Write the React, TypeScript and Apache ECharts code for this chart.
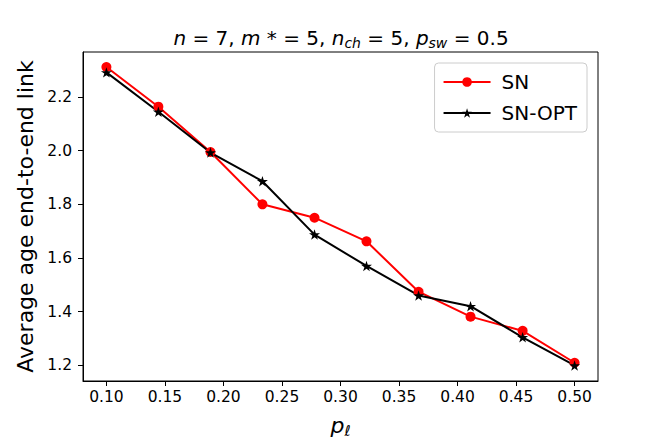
import React, { useEffect, useRef } from "react";
import * as echarts from "echarts";

const xValues = [0.1, 0.1444, 0.1889, 0.2333, 0.2778, 0.3222, 0.3667, 0.4111, 0.4556, 0.5];
const snValues = [2.312, 2.164, 1.995, 1.8, 1.75, 1.662, 1.474, 1.381, 1.328, 1.209];
const snOptValues = [2.292, 2.145, 1.993, 1.886, 1.687, 1.57, 1.46, 1.42, 1.304, 1.199];
const xTicks = [0.1, 0.15, 0.2, 0.25, 0.3, 0.35, 0.4, 0.45, 0.5];
const yTicks = [1.2, 1.4, 1.6, 1.8, 2.0, 2.2];
const seriesNames = ["SN", "SN-OPT"];

const STAR =
  "path://M100,0 L122.45,69.1 L195.1,69.1 L136.3,111.8 L158.8,180.9 L100,138.2 L41.2,180.9 L63.7,111.8 L4.9,69.1 L77.55,69.1 Z";

const FONT = "DejaVu Sans";

export default function App() {
  const ref = useRef<HTMLDivElement>(null);
  useEffect(() => {
    if (!ref.current) return;
    const chart = echarts.init(ref.current, undefined, { renderer: "svg" });
    const it = { fontFamily: FONT, fontStyle: "italic", fontSize: 20, color: "#000" };
    const nm = { fontFamily: FONT, fontSize: 20, color: "#000" };
    const sub = { fontFamily: FONT, fontStyle: "italic", fontSize: 14, color: "#000", padding: [10, 0, 0, 0] };
    chart.setOption({
      animation: false,
      backgroundColor: "#fff",
      grid: {
        left: 83,
        right: 66,
        top: 52,
        bottom: 55,
        show: true,
        borderColor: "#000",
        borderWidth: 1,
        backgroundColor: "transparent",
      },
      graphic: [
        {
          type: "text",
          x: 341,
          y: 38,
          style: {
            text: "{i|n}{r| = 7, }{i|m}{r| * = 5, }{i|n}{s|ch}{r| = 5, }{i|p}{s|sw}{r| = 0.5}",
            rich: { i: it, r: nm, s: sub },
            align: "center",
            verticalAlign: "middle",
          },
        },
      ],
      legend: {
        data: seriesNames,
        orient: "vertical",
        right: 77,
        top: 63,
        itemWidth: 47,
        itemHeight: 12,
        itemGap: 11,
        padding: [9, 10, 9, 8],
        backgroundColor: "rgba(255,255,255,0.8)",
        borderColor: "#cccccc",
        borderWidth: 1,
        borderRadius: 4,
        textStyle: { fontFamily: FONT, fontSize: 20, color: "#000", padding: [0, 0, 0, 6] },
      },
      xAxis: {
        type: "value",
        min: 0.08,
        max: 0.52,
        name: "{p|p}{l|ℓ}",
        nameLocation: "middle",
        nameGap: 32,
        nameTextStyle: {
          rich: {
            p: { fontFamily: FONT, fontStyle: "italic", fontSize: 22, color: "#000" },
            l: { fontFamily: FONT, fontStyle: "italic", fontSize: 15, color: "#000", padding: [10, 0, 0, 0] },
          },
        },
        splitLine: { show: false },
        axisLine: { show: true, onZero: false, lineStyle: { color: "#000", width: 1 } },
        axisTick: { show: true, length: 5, lineStyle: { color: "#000" }, customValues: xTicks },
        axisLabel: {
          customValues: xTicks,
          formatter: (v: number) => v.toFixed(2),
          fontFamily: FONT,
          fontSize: 15.5,
          color: "#000",
          margin: 8,
        },
      },
      yAxis: {
        type: "value",
        min: 1.141,
        max: 2.368,
        name: "Average age end-to-end link",
        nameLocation: "middle",
        nameGap: 43,
        nameTextStyle: { fontFamily: FONT, fontSize: 22, color: "#000" },
        splitLine: { show: false },
        axisLine: { show: true, onZero: false, lineStyle: { color: "#000", width: 1 } },
        axisTick: { show: true, length: 5, lineStyle: { color: "#000" }, customValues: yTicks },
        axisLabel: {
          customValues: yTicks,
          formatter: (v: number) => v.toFixed(1),
          fontFamily: FONT,
          fontSize: 15.5,
          color: "#000",
          margin: 11,
        },
      },
      series: [
        {
          name: seriesNames[0],
          type: "line",
          data: xValues.map((x, i) => [x, snValues[i]]),
          symbol: "circle",
          symbolSize: 10,
          itemStyle: { color: "#ff0000" },
          lineStyle: { color: "#ff0000", width: 2 },
        },
        {
          name: seriesNames[1],
          type: "line",
          data: xValues.map((x, i) => [x, snOptValues[i]]),
          symbol: STAR,
          symbolKeepAspect: true,
          symbolSize: 11,
          itemStyle: { color: "#000" },
          lineStyle: { color: "#000", width: 2 },
        },
      ],
    });
    return () => chart.dispose();
  }, []);
  return (
    <div
      ref={ref}
      style={{ position: "fixed", left: 0, top: 0, width: 664, height: 443, background: "#fff" }}
    />
  );
}
